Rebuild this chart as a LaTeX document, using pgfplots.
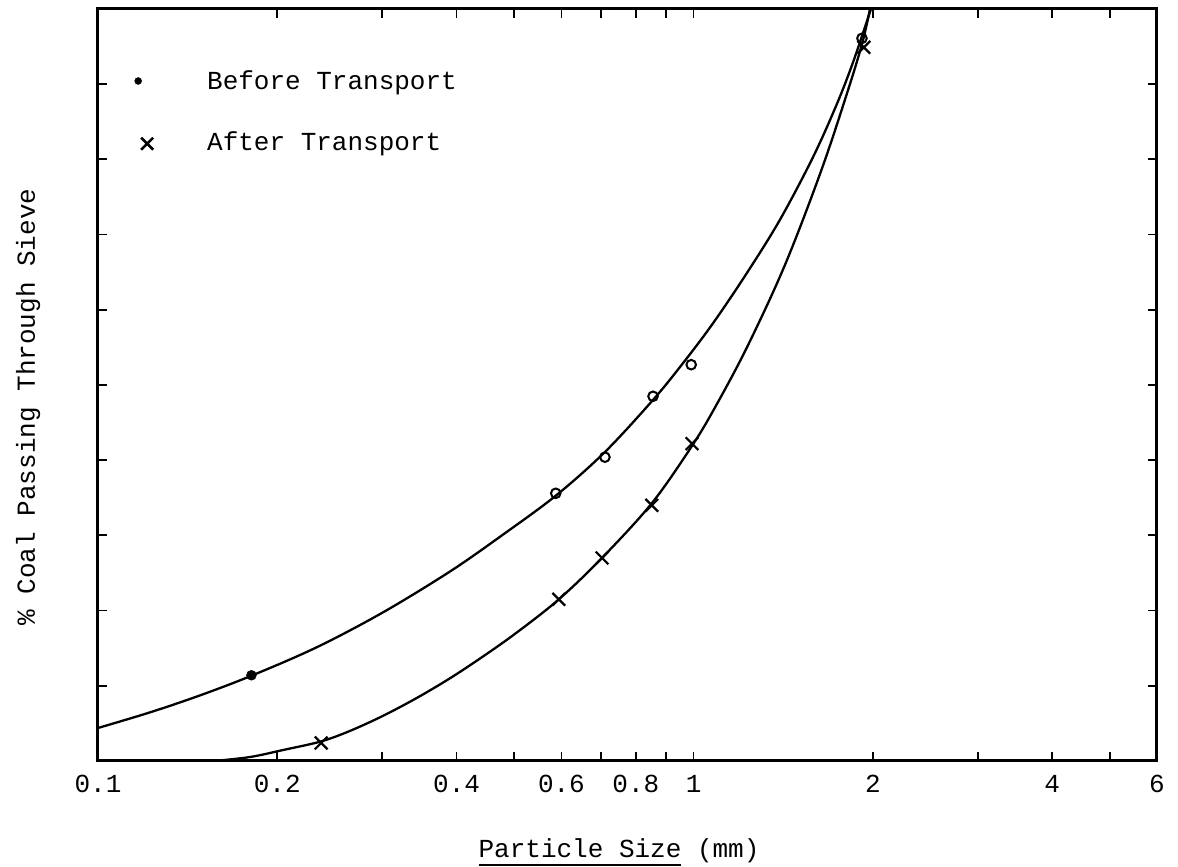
\documentclass[border=0pt]{standalone}
\usepackage{pgfplots}
\pgfplotsset{compat=1.18}
\usepackage{fontspec}
\setmainfont{Liberation Mono}

% underline set a fixed distance below the baseline
\newcommand\ulpart[1]{\setbox0=\hbox{#1}\rlap{\rule[-9pt]{\wd0}{2pt}}\box0\relax}

\begin{document}
\fontsize{26}{30}\selectfont
\begin{tikzpicture}
\begin{axis}[
  name=ax,
  scale only axis,
  width=1059pt, height=752pt,
  xmode=log,
  xmin=0.1, xmax=6, ymin=0, ymax=100,
  xtick={0.1,0.2,0.4,0.6,0.8,1,2,4,6},
  xticklabels={0.1,0.2,0.4,0.6,0.8,1,2,4,6},
  minor xtick={0.3,0.5,0.7,0.9,3,5},
  ytick={10,20,30,40,50,60,70,80,90},
  yticklabels={},
  minor ytick={},
  tick align=inside,
  xtick pos=both, ytick pos=both,
  major tick length=9pt, minor tick length=9pt,
  every tick/.style={black, line width=1.8pt},
  axis line style={line width=3pt},
  xticklabel style={anchor=base, yshift=-32pt},
  xlabel={\ulpart{Particle Size} (mm)},
  xlabel style={at={(axis description cs:0.492,-0.1277)}, anchor=base},
  ylabel={\% Coal Passing Through Sieve},
  ylabel style={at={(axis description cs:-0.0595,0.4707)}, anchor=base},
  legend style={at={(axis description cs:0.0283,0.9176)}, anchor=north west,
    draw=none, fill=none, inner sep=0pt, row sep=38pt,
    nodes={inner sep=0pt}, cells={anchor=base west}},
]

% legend entries
\addlegendimage{legend image code/.code={%
  \path[draw=none] (0pt,0pt) -- (79pt,0pt);
  \fill (10pt,9pt) circle (3.5pt);}}
\addlegendentry{Before Transport}
\addlegendimage{legend image code/.code={%
  \path[draw=none] (0pt,0pt) -- (79pt,0pt);
  \draw[line width=2.6pt] (13pt,1pt) -- (25pt,13pt) (13pt,13pt) -- (25pt,1pt);}}
\addlegendentry{After Transport}

% fitted curve, before transport
\addplot[forget plot, smooth, tension=0.55, line width=2.3pt] coordinates {
  (0.1,4.39) (0.1223,6.47) (0.1483,8.72) (0.1814,11.37) (0.2332,15.14)
  (0.3009,19.76) (0.3900,25.2) (0.4786,30.1) (0.5875,35.3) (0.7101,41.1)
  (0.8546,48.0) (0.9599,52.9) (1.0779,58.2) (1.2292,64.9) (1.3972,72.0)
  (1.5871,80.3) (1.7413,87.4) (1.8524,92.9) (1.9554,98.4) (1.986,100)
};

% fitted curve, after transport
\addplot[forget plot, smooth, tension=0.55, line width=2.3pt] coordinates {
  (0.1483,0) (0.1560,0) (0.1800,0.53) (0.2045,1.46) (0.2368,2.6)
  (0.2649,4.0) (0.3009,6.0) (0.3433,8.4) (0.3900,11.0) (0.4431,13.9)
  (0.5052,17.1) (0.5941,21.5) (0.7019,27.0) (0.8515,34.3) (0.9939,41.9)
  (1.0862,47.0) (1.2292,55.0) (1.4245,66.0) (1.6432,78.8) (1.8307,90.0)
  (1.9250,95.8) (1.9782,100)
};

% measured points, before transport
\addplot[forget plot, only marks, mark=*, mark size=5pt] coordinates {(0.181,11.4)};
\addplot[forget plot, only marks, mark=o, mark size=4.8pt, mark options={line width=2pt}] coordinates {
  (0.587,35.6) (0.710,40.4) (0.855,48.5) (0.991,52.7) (1.918,96.1)
};

% measured points, after transport
\addplot[forget plot, only marks, mark=x, mark size=9pt, mark options={line width=2.2pt}] coordinates {
  (0.237,2.4) (0.594,21.5) (0.702,27.0) (0.851,34.0) (0.994,42.2) (1.932,94.9)
};
\end{axis}
\pgfresetboundingbox
\path[use as bounding box] (ax.south west) ++(-98pt,-106pt) rectangle ++(1178pt,867pt);
\end{tikzpicture}
\end{document}
